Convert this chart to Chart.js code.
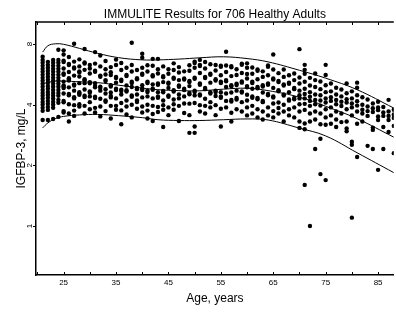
<!DOCTYPE html>
<html><head><meta charset="utf-8">
<script src="https://cdn.jsdelivr.net/npm/chart.js@4/dist/chart.umd.min.js"></script>
<style>html,body{margin:0;padding:0;background:#fff}</style>
</head><body>
<canvas id="c" width="396" height="314"></canvas>
<script>
// Ages (years) of each column of points
const colAges = [21,22,23,24,25,26,27,28,29,30,31,32,33,34,35,36,37,38,39,40,41,42,43,44,45,46,47,48,49,50,51,52,53,54,55,56,57,58,59,60,61,62,63,64,65,66,67,68,69,70,71,72,73,74,75,76,77,78,79,80,81,82,83,84,85,86,87,88];
// IGFBP-3 values (mg/L) in each age column
const colValues = [
 [6.92,6.68,6.46,6.24,6.03,5.83,5.63,5.44,5.26,5.08,4.91,4.74,4.58,4.43,4.28,4.13,4.00,3.86,3.73,3.36],
 [6.53,6.31,6.10,5.90,5.70,5.51,5.32,5.14,4.96,4.80,4.63,4.48,4.33,4.18,4.04,3.90,3.77,3.36],
 [6.68,6.46,6.24,6.03,5.83,5.63,5.44,5.26,5.08,4.91,4.74,4.58,4.43,4.28,4.13,4.00,3.86,3.40],
 [7.50,6.68,6.46,6.24,6.03,5.83,5.63,5.44,5.26,5.08,4.91,4.74,4.58,4.43,4.23,4.09,3.48],
 [7.45,7.10,6.62,6.52,6.05,5.72,5.64,5.21,4.98,4.91,4.84,4.55,4.18,4.11,3.72,3.66],
 [6.90,6.38,6.30,5.82,5.41,5.34,5.27,4.88,4.52,4.46,4.02,3.62,3.30],
 [8.03,6.55,6.12,6.05,5.58,5.05,4.98,4.70,4.36,4.30,3.98,3.74,3.52],
 [6.72,6.20,5.86,5.79,5.52,5.12,4.62,4.55,4.48,4.02,3.92],
 [7.57,6.48,6.41,5.96,5.36,5.29,5.12,4.76,4.43,4.37,3.95,3.62],
 [6.30,6.05,5.72,5.18,5.11,4.66,4.59,4.40,4.12,3.80],
 [7.30,6.40,5.90,5.83,5.12,4.95,4.88,4.38,4.32,3.86,3.66],
 [7.02,6.20,5.58,5.51,4.92,4.85,4.70,4.28,3.92,3.50],
 [6.60,6.00,5.65,5.30,5.24,4.78,4.55,4.20,4.14,3.72],
 [6.15,5.80,5.62,5.00,4.93,4.60,4.42,4.35,3.95,3.42],
 [6.70,6.30,5.50,5.43,5.15,4.80,4.73,4.30,3.95,3.78],
 [6.45,5.95,5.32,5.25,4.75,4.68,4.50,4.08,3.75,3.20],
 [6.10,5.62,5.55,4.98,4.72,4.65,4.20,3.92,3.58],
 [8.12,6.30,5.85,5.20,5.13,4.90,4.45,4.38,4.00,3.46],
 [5.95,5.42,5.35,4.85,4.78,4.50,4.20,4.13,3.82],
 [7.16,6.84,6.10,5.70,5.63,5.00,4.80,4.73,4.35,3.92,3.66],
 [6.28,5.85,5.20,5.13,4.70,4.63,4.40,4.00,3.74,3.42],
 [6.76,6.25,5.60,5.53,5.05,4.82,4.75,4.30,3.95,3.60,3.32],
 [6.76,6.00,5.72,5.10,5.03,4.62,4.40,4.33,3.90,3.68],
 [6.20,5.55,5.48,5.18,4.68,4.61,4.20,3.98,3.78,3.10],
 [6.00,5.70,5.15,5.08,4.85,4.45,4.38,3.88,3.55],
 [6.42,5.95,5.45,5.38,4.72,4.65,4.25,4.02,3.78],
 [6.15,5.78,5.30,4.98,4.91,4.50,4.30,3.95,3.32],
 [5.86,5.40,5.33,4.80,4.73,4.40,4.06,3.64],
 [6.28,5.90,5.25,5.18,4.95,4.58,4.51,4.05,3.55,2.90],
 [6.55,6.45,6.10,5.45,5.38,4.70,4.63,4.45,4.08,3.12,2.90],
 [6.68,6.31,6.22,5.75,5.10,5.03,4.50,4.44,3.98,3.70],
 [6.52,6.05,5.50,5.43,4.85,4.78,4.28,3.95,3.62],
 [6.35,5.70,5.63,5.15,4.62,4.55,4.12,3.88],
 [6.30,5.92,5.35,5.28,4.70,4.63,4.42,3.98,3.55],
 [6.25,6.17,5.60,5.20,5.13,4.62,4.40,4.33,3.82,3.12],
 [7.33,6.26,5.82,5.30,5.23,4.90,4.55,4.18,3.88],
 [6.22,6.14,5.55,5.00,4.93,4.60,4.22,4.15,3.65,3.30],
 [6.00,5.62,5.08,5.01,4.70,4.32,4.25,3.80],
 [6.40,6.31,5.75,5.22,5.15,4.66,4.60,4.12,3.70],
 [6.42,6.10,5.68,5.40,4.95,4.88,4.48,4.20,3.88,3.54],
 [6.12,5.70,5.20,5.13,4.80,4.40,4.33,3.95,3.62],
 [5.98,5.90,5.35,4.90,4.83,4.32,4.26,3.80,3.46],
 [5.86,5.50,5.00,4.93,4.60,4.18,4.12,3.70,3.38],
 [6.26,6.18,5.60,5.10,5.03,4.52,4.46,3.88,3.54],
 [7.10,5.98,5.40,5.33,4.85,4.40,4.34,4.06,3.72,3.46],
 [5.74,5.25,5.18,4.72,4.66,4.10,3.85,3.62],
 [5.98,5.50,5.05,4.98,4.50,4.44,4.00,3.70,3.30],
 [5.60,5.15,5.08,4.62,4.25,4.19,3.80,3.54],
 [5.72,5.30,4.85,4.78,4.32,4.26,3.88,3.46],
 [7.55,5.46,5.10,4.70,4.46,4.30,4.02,3.70,3.30,3.07],
 [6.31,5.96,5.70,5.20,4.80,4.52,4.30,4.04,3.77,3.23,3.02,1.60],
 [5.44,4.98,4.62,4.38,4.18,3.95,3.62,3.30,1.00],
 [5.72,5.30,4.90,4.50,4.22,4.02,3.70,3.38,2.41],
 [5.22,4.78,4.46,4.20,3.96,3.62,3.20,2.71,1.81],
 [6.31,5.62,5.00,4.62,4.30,4.10,3.80,3.46,3.18,1.69],
 [5.10,4.66,4.36,4.18,3.88,3.54,3.22],
 [4.86,4.50,4.22,4.02,3.70,3.38,3.10],
 [4.76,4.40,4.14,3.94,3.62,3.28],
 [5.10,4.56,4.26,4.10,3.80,3.30,3.05,2.95],
 [4.66,4.30,4.06,3.88,3.54,2.62,2.53,1.10],
 [5.15,4.86,4.46,4.16,3.96,3.70,3.22,2.20],
 [4.36,4.00,3.78,3.62,3.30],
 [4.25,3.92,3.72,3.52,2.50],
 [4.06,3.84,3.68,3.08,3.00,2.41],
 [4.14,3.88,3.76,3.50,3.36,1.90],
 [3.90,3.66,3.52,3.10,2.41],
 [4.23,3.70,3.52,3.36,2.93],
 [3.78,3.58,3.44,3.14,2.30]
];
// Reference curves (mg/L) at these ages
const curveAges   = [21,22,23.5,25,28,31.5,35.5,40,43,47,51,55.5,60,64,70,75,81,88];
const upperCurve  = [7.30,7.85,8.03,7.98,7.62,7.20,6.85,6.68,6.68,6.74,6.84,6.92,6.78,6.53,5.93,5.42,4.75,3.85];
const medianCurve = [5.08,5.16,5.24,5.24,5.20,5.15,5.00,4.84,4.75,4.70,4.69,4.78,4.83,4.70,4.36,3.93,3.41,2.76];
const lowerCurve  = [3.07,3.25,3.42,3.50,3.56,3.58,3.53,3.45,3.37,3.34,3.34,3.37,3.40,3.36,3.06,2.80,2.31,1.84];
// Axis ticks
const xTickValues = [20,25,30,35,40,45,50,55,60,65,70,75,80,85];
const xTickLabels = [25,35,45,55,65,75,85];
const yTickValues = [1,2,4,8];

const FONT = "'Liberation Sans', Arial, Helvetica, sans-serif";
const scatterData = [];
colAges.forEach((a, i) => colValues[i].forEach(v => scatterData.push({x: a, y: v})));
const curve = arr => curveAges.map((a, i) => ({x: a, y: arr[i]}));
const lineDs = (label, arr) => ({type: 'line', label, data: curve(arr), borderColor: '#000', borderWidth: 1,
  pointRadius: 0, fill: false, tension: 0.4, showLine: true});

const tickPlugin = {
  id: 'ticks',
  afterDraw(chart) {
    const {ctx, chartArea: ca, scales: {x, y}} = chart;
    ctx.save();
    ctx.strokeStyle = '#000';
    ctx.lineWidth = 1;
    ctx.beginPath();
    xTickValues.forEach(v => {
      const px = Math.round(x.getPixelForValue(v)) + 0.5;
      ctx.moveTo(px, ca.bottom); ctx.lineTo(px, ca.bottom - 3);
      ctx.moveTo(px, ca.top); ctx.lineTo(px, ca.top + 3);
    });
    yTickValues.forEach(v => {
      const py = Math.round(y.getPixelForValue(v)) + 0.5;
      ctx.moveTo(ca.left - 3, py); ctx.lineTo(ca.left, py);
    });
    ctx.stroke();
    ctx.lineWidth = 1.5;
    ctx.beginPath();
    ctx.moveTo(ca.left, ca.top); ctx.lineTo(ca.right, ca.top);
    ctx.stroke();
    ctx.restore();
  }
};

new Chart(document.getElementById('c'), {
  type: 'scatter',
  data: {
    datasets: [
      {label: 'Subjects', data: scatterData, backgroundColor: '#000', borderWidth: 0, pointRadius: 2.2, pointHoverRadius: 2.2},
      lineDs('Upper', upperCurve),
      lineDs('Median', medianCurve),
      lineDs('Lower', lowerCurve)
    ]
  },
  options: {
    responsive: false,
    animation: false,
    events: [],
    layout: {padding: 0},
    plugins: {
      legend: {display: false},
      tooltip: {enabled: false},
      title: {display: true, fullSize: false, text: 'IMMULITE Results for 706 Healthy Adults', color: '#000',
        font: {family: FONT, size: 12, weight: 'normal'}, padding: {top: 7.2, bottom: 0.4}}
    },
    scales: {
      x: {
        type: 'linear', min: 19.73, max: 88,
        afterBuildTicks: s => { s.ticks = xTickValues.map(v => ({value: v})); },
        afterFit: s => { s.height = 39; },
        grid: {display: false, drawTicks: false},
        border: {display: true, color: '#000', width: 1.5},
        ticks: {autoSkip: false, maxRotation: 0, minRotation: 0, padding: 3, color: '#000',
          font: {family: FONT, size: 8},
          callback: v => xTickLabels.includes(v) ? String(v) : ''},
        title: {display: true, text: 'Age, years', color: '#000', font: {family: FONT, size: 12}, padding: {top: 0, bottom: 8.4}}
      },
      y: {
        type: 'logarithmic', min: 0.571, max: 10.3,
        afterBuildTicks: s => { s.ticks = yTickValues.map(v => ({value: v})); },
        afterFit: s => { s.width = 36; },
        grid: {display: false, drawTicks: false},
        border: {display: true, color: '#000', width: 1.5},
        ticks: {autoSkip: false, minRotation: 90, maxRotation: 90, crossAlign: 'center', padding: 3.5, color: '#000',
          font: {family: FONT, size: 8},
          callback: v => yTickValues.includes(v) ? String(v) : ''},
        title: {display: true, text: 'IGFBP-3, mg/L', color: '#000', font: {family: FONT, size: 12}, padding: {top: 14.2, bottom: 0}}
      }
    }
  },
  plugins: [tickPlugin]
});
</script>
</body></html>
